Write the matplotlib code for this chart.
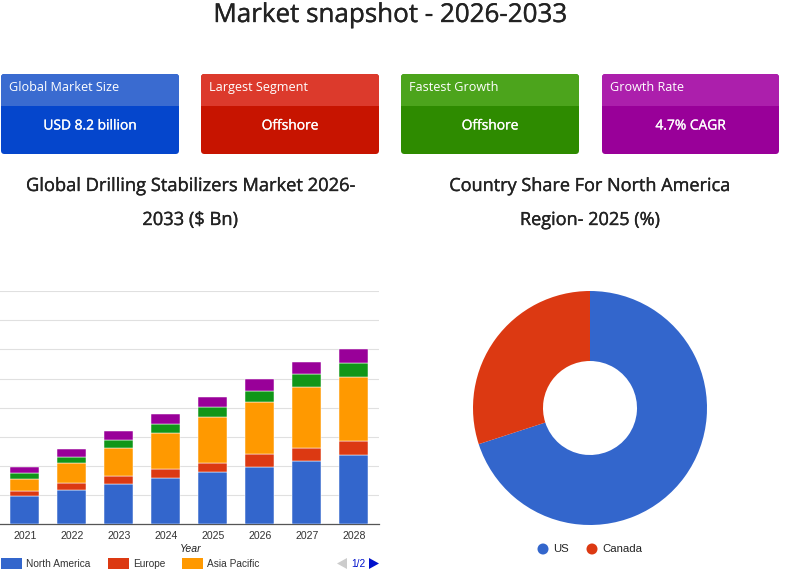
import matplotlib
matplotlib.use("Agg")
import matplotlib.pyplot as plt
import matplotlib.patheffects as pe
from matplotlib.patches import FancyBboxPatch, Rectangle, Polygon, Circle

W, H = 791, 574
years = ["2021", "2022", "2023", "2024", "2025", "2026", "2027", "2028"]
north_america = [0.97, 1.17, 1.40, 1.58, 1.78, 1.98, 2.16, 2.39]
europe = [0.19, 0.26, 0.25, 0.33, 0.34, 0.42, 0.46, 0.48]
asia_pacific = [0.41, 0.66, 0.97, 1.21, 1.56, 1.80, 2.08, 2.20]
latin_america = [0.19, 0.23, 0.27, 0.32, 0.35, 0.38, 0.46, 0.48]
mea = [0.21, 0.26, 0.30, 0.33, 0.34, 0.42, 0.41, 0.47]
series = [north_america, europe, asia_pacific, latin_america, mea]
series_colors = ["#3366cc", "#dc3912", "#ff9900", "#109618", "#990099"]
legend_names = ["North America", "Europe", "Asia Pacific"]
countries = ["US", "Canada"]
country_share = [70, 30]
cards = [("Global Market Size", "USD 8.2 billion", "#3a6bd0", "#0546cc"),
         ("Largest Segment", "Offshore", "#dc3a2c", "#c71400"),
         ("Fastest Growth", "Offshore", "#4ca41c", "#2e8b00"),
         ("Growth Rate", "4.7% CAGR", "#ac1fac", "#990099")]
card_x = [1, 201, 401, 602]
card_w = [178, 178, 178, 177]

HEAD = "Open Sans"
BODY = "Liberation Sans"

def px(v):
    return v * 0.72

def heavy(c, lw=0.25):
    return [pe.withStroke(linewidth=lw, foreground=c)]

fig = plt.figure(figsize=(W / 100, H / 100), dpi=100, facecolor="white")
bg = fig.add_axes([0, 0, 1, 1])
bg.set_xlim(0, W); bg.set_ylim(H, 0); bg.axis("off")

bg.text(390, 15.5, "Market snapshot - 2026-2033", ha="center", va="center",
        fontsize=px(26), family=HEAD, color="#222222", path_effects=heavy("#222222"))

for (lab, val, top, low), x, w in zip(cards, card_x, card_w):
    clip = FancyBboxPatch((x, 74), w, 80, boxstyle="round,pad=0,rounding_size=3.5",
                          fc=low, ec="none")
    bg.add_patch(clip)
    head = Rectangle((x, 74), w, 32, fc=top, ec="none")
    bg.add_patch(head)
    head.set_clip_path(clip)
    bg.text(x + 8, 87.5, lab, ha="left", va="center", fontsize=px(12.6), family=HEAD, color="white")
    bg.text(x + w / 2, 126, val, ha="center", va="center", fontsize=px(13.8), family=HEAD,
            color="white", path_effects=heavy("white", 0.2))

for y, t in [(186, "Global Drilling Stabilizers Market 2026-"), (220, "2033 ($ Bn)")]:
    bg.text(190, y, t, ha="center", va="center", fontsize=px(18.3), family=HEAD, color="#222222",
            path_effects=heavy("#222222"))
for y, t in [(186, "Country Share For North America"), (220, "Region- 2025 (%)")]:
    bg.text(590, y, t, ha="center", va="center", fontsize=px(18.1), family=HEAD, color="#222222",
            path_effects=heavy("#222222"))

# stacked bars
ax = fig.add_axes([0, 1 - 524.3 / H, 379 / W, (524.3 - 291.2) / H])
ax.patch.set_alpha(0)
bottom = [0.0] * len(years)
for vals, c in zip(series, series_colors):
    ax.bar(years, vals, width=0.617, bottom=bottom, color=c, edgecolor="white", linewidth=0.35, zorder=3)
    bottom = [b + v for b, v in zip(bottom, vals)]
ax.set_xlim(-0.528, 7.536)
ax.set_ylim(0, 8)
ax.set_yticks(range(0, 9))
ax.tick_params(axis="y", left=False, labelleft=False)
ax.tick_params(axis="x", length=0, pad=4.5, labelsize=px(10.5), labelcolor="#333333")
for t in ax.get_xticklabels():
    t.set_family(BODY)
ax.grid(axis="y", color="#e0e0e0", linewidth=0.8, zorder=0)
for s in ["top", "left", "right"]:
    ax.spines[s].set_visible(False)
ax.spines["bottom"].set_color("#555555")
ax.spines["bottom"].set_linewidth(0.9)
bg.text(190.5, 548.5, "Year", ha="center", va="center", fontsize=px(10.5), family=BODY,
        style="italic", color="#222222")

# chart legend
for name, c, x in zip(legend_names, series_colors, [1, 108, 182]):
    bg.add_patch(Rectangle((x, 558), 20.5, 10.5, fc=c, ec="none"))
    bg.text(x + 25, 563.7, name, ha="left", va="center", fontsize=px(10.1), family=BODY, color="#333333")
bg.add_patch(Polygon([[337, 563.5], [347, 558], [347, 569]], fc="#cccccc", ec="none"))
bg.text(358, 563.7, "1/2", ha="center", va="center", fontsize=px(10.1), family=BODY, color="#0011cc")
bg.add_patch(Polygon([[369, 558], [379, 563.5], [369, 569]], fc="#0011cc", ec="none"))

# donut
R = 117
d = fig.add_axes([(590 - R) / W, 1 - (408 + R) / H, 2 * R / W, 2 * R / H])
d.pie(country_share, colors=series_colors[:2], startangle=90, counterclock=False, radius=1,
      wedgeprops=dict(width=1 - 47 / R, edgecolor="none"))
d.set_xlim(-1, 1); d.set_ylim(-1, 1)

for name, c, x in zip(countries, series_colors, [543, 592]):
    bg.add_patch(Circle((x, 549), 5.5, fc=c, ec="none"))
    bg.text(x + 10.5, 549, name, ha="left", va="center", fontsize=px(11.4), family=BODY, color="#222222")

fig.savefig("out.png", dpi=100)
